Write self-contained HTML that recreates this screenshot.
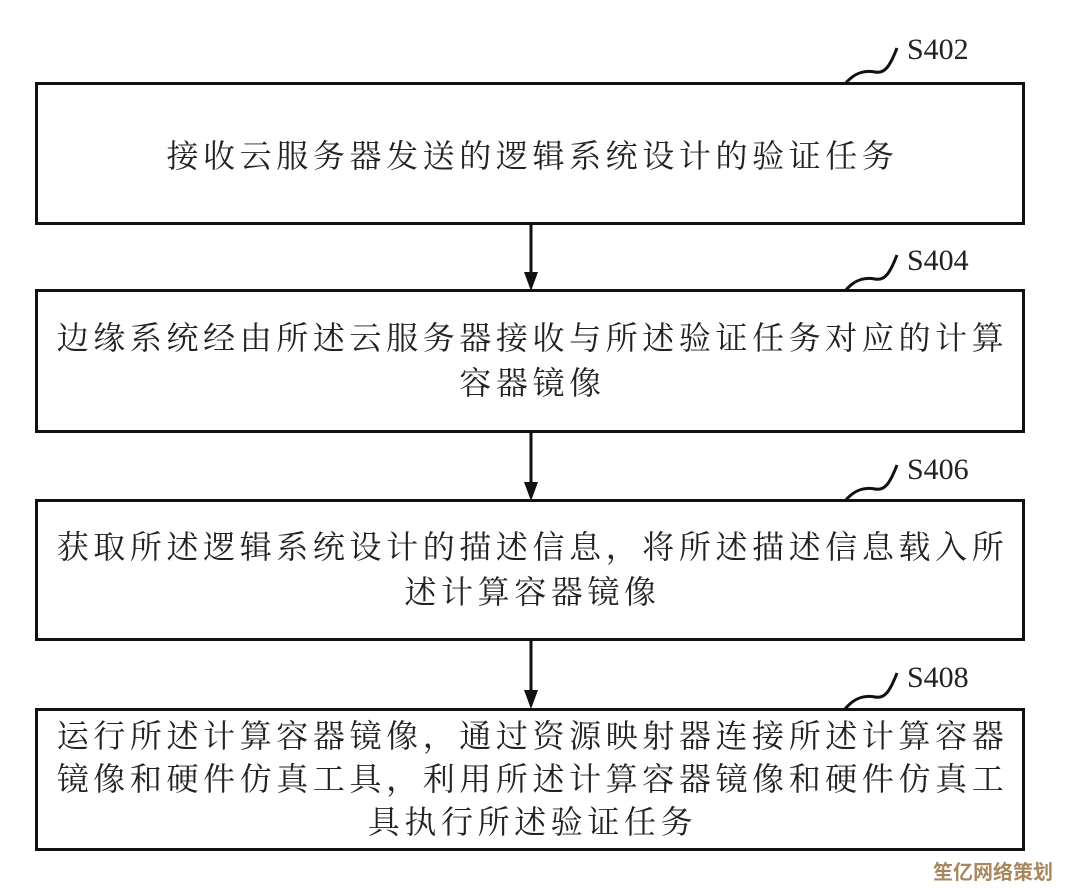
<!DOCTYPE html>
<html><head><meta charset="utf-8"><style>
html,body{margin:0;padding:0;background:#fff;}
body{width:1066px;height:888px;position:relative;overflow:hidden;font-family:"Liberation Serif","Noto Serif CJK SC",serif;}
.box{position:absolute;left:35px;width:990px;border:3px solid #111;background:#fff;box-sizing:border-box;display:flex;align-items:center;justify-content:center;text-align:center;font-size:32px;letter-spacing:4.6px;color:#222;}
.box div{white-space:nowrap;padding-left:5px;}
.lab{position:absolute;left:907px;font-size:30px;color:#222;font-family:"Liberation Serif",serif;}
svg{position:absolute;left:0;top:0;}
.wm{position:absolute;left:933px;top:856px;font-size:20px;white-space:nowrap;font-weight:bold;color:#a8875f;font-family:"Liberation Sans","Noto Sans CJK SC",sans-serif;}
</style></head><body>
<svg width="1066" height="888">
<g fill="none" stroke="#111" stroke-width="3">
<path d="M845,84 C855,72 865,70 875,72 C885,74 890,66 897,48"/>
<path d="M845,291 C855,279 865,277 875,279 C885,281 890,273 897,255"/>
<path d="M845,501 C855,489 865,487 875,489 C885,491 890,483 897,465"/>
<path d="M845,709 C855,697 865,695 875,697 C885,699 890,691 897,673"/>
<line x1="531" y1="224" x2="531" y2="276"/>
<line x1="531" y1="432" x2="531" y2="486"/>
<line x1="531" y1="640" x2="531" y2="694"/>
</g>
<g fill="#111">
<polygon points="524,272 538,272 531,291"/>
<polygon points="524,482 538,482 531,501"/>
<polygon points="524,690 538,690 531,709"/>
</g>
</svg>
<div class="lab" style="top:33px">S402</div>
<div class="lab" style="top:244px">S404</div>
<div class="lab" style="top:453px">S406</div>
<div class="lab" style="top:661px">S408</div>
<div class="box" style="top:82px;height:143px"><div>接收云服务器发送的逻辑系统设计的验证任务</div></div>
<div class="box" style="top:289px;height:144px"><div style="line-height:45px">边缘系统经由所述云服务器接收与所述验证任务对应的计算<br>容器镜像</div></div>
<div class="box" style="top:499px;height:142px"><div style="line-height:45px">获取所述逻辑系统设计的描述信息，将所述描述信息载入所<br>述计算容器镜像</div></div>
<div class="box" style="top:708px;height:143px"><div style="line-height:43px">运行所述计算容器镜像，通过资源映射器连接所述计算容器<br>镜像和硬件仿真工具，利用所述计算容器镜像和硬件仿真工<br>具执行所述验证任务</div></div>
<div class="wm">笙亿网络策划</div>
</body></html>
